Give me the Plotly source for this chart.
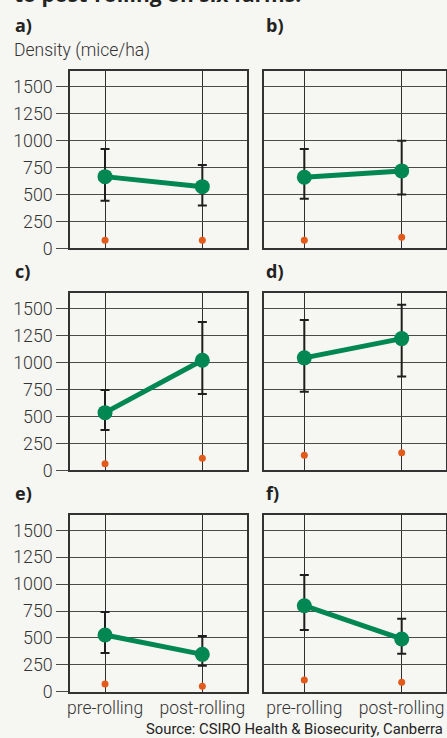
import plotly.graph_objects as go
from plotly.subplots import make_subplots

# ---- data ----
panel_labels = ["a)", "b)", "c)", "d)", "e)", "f)"]
categories = ["pre-rolling", "post-rolling"]
pre_mean = [665, 659, 536, 1045, 527, 799]
post_mean = [572, 718, 1023, 1224, 347, 490]
pre_upper = [922, 922, 747, 1398, 741, 1085]
pre_lower = [442, 460, 375, 731, 360, 573]
post_upper = [773, 999, 1379, 1538, 518, 678]
post_lower = [396, 498, 710, 871, 242, 353]
pre_other = [74, 74, 61, 140, 72, 109]
post_other = [74, 102, 112, 164, 50, 87]
y_ticks = [0, 250, 500, 750, 1000, 1250, 1500]

W, H = 447, 738
BG = "#f6f6f2"
GREEN = "#008752"
ORANGE = "#e25b1b"
GRID = "#4a4a4a"
TXT = "#333333"
FONT = "Roboto, Liberation Sans, sans-serif"
BOLD = "Open Sans, Liberation Sans, sans-serif"


def px(x):
    return x / W


def py(y):
    return 1 - y / H


col_dom = [[px(70), px(246.7)], [px(264), px(445.7)]]
row_dom = [[py(248.3), py(71)], [py(470.3), py(293.3)], [py(691.7), py(514.7)]]
col_range = [[-0.36, 1.456], [-0.414, 1.452]]

fig = make_subplots(rows=3, cols=2)

for i in range(6):
    r, c = i // 2, i % 2
    means = [pre_mean[i], post_mean[i]]
    up = [pre_upper[i] - pre_mean[i], post_upper[i] - post_mean[i]]
    dn = [pre_mean[i] - pre_lower[i], post_mean[i] - post_lower[i]]
    fig.add_trace(go.Scatter(
        x=categories, y=means, mode="markers",
        marker=dict(size=1, opacity=0),
        error_y=dict(type="data", array=up, arrayminus=dn, color="#1e1e1e",
                     thickness=2, width=4.5),
        showlegend=False, hoverinfo="skip"), row=r + 1, col=c + 1)
    fig.add_trace(go.Scatter(
        x=categories, y=means, mode="lines+markers",
        line=dict(color=GREEN, width=5),
        marker=dict(color=GREEN, size=15),
        showlegend=False), row=r + 1, col=c + 1)
    fig.add_trace(go.Scatter(
        x=categories, y=[pre_other[i], post_other[i]], mode="markers",
        marker=dict(color=ORANGE, size=7),
        showlegend=False), row=r + 1, col=c + 1)

    fig.update_xaxes(
        domain=col_dom[c], range=col_range[c], type="category", automargin=False,
        showgrid=True, gridcolor="#2e2e2e", gridwidth=1.3,
        showline=True, mirror=True, linecolor="#333333", linewidth=1.5,
        ticks="", showticklabels=(r == 2), tickangle=0,
        tickfont=dict(family=FONT, size=17.5, color=TXT, weight=300),
        row=r + 1, col=c + 1)
    fig.update_yaxes(
        domain=row_dom[r], range=[0, 1645], automargin=False,
        tickvals=y_ticks, ticktext=[str(v) for v in y_ticks],
        showgrid=True, gridcolor=GRID, gridwidth=1.3, zeroline=False,
        showline=True, mirror=True, linecolor="#333333", linewidth=1.5,
        ticks=("outside" if c == 0 else ""), ticklen=12, tickwidth=1.3,
        tickcolor=GRID, showticklabels=(c == 0),
        tickfont=dict(family=FONT, size=17.8, color=TXT, weight=300),
        row=r + 1, col=c + 1)

annotations = []
label_pos = [(13, 25), (264, 25), (13, 271), (264, 271), (13, 493), (264, 493)]
for lab, (x, y) in zip(panel_labels, label_pos):
    annotations.append(dict(text=lab, x=px(x), y=py(y), xref="paper", yref="paper",
                            xanchor="left", yanchor="middle", showarrow=False,
                            font=dict(family=BOLD, size=18, color="#222222", weight="bold")))
annotations.append(dict(text="Density (mice/ha)", x=px(12), y=py(51), xref="paper", yref="paper",
                        xanchor="left", yanchor="middle", showarrow=False,
                        font=dict(family=FONT, size=17.5, color=TXT, weight=300)))
annotations.append(dict(text="to post-rolling on six farms.", x=px(12), y=py(-6), xref="paper",
                        yref="paper", xanchor="left", yanchor="middle", showarrow=False,
                        font=dict(family=BOLD, size=21, color="#222222", weight="bold")))
annotations.append(dict(text="Source: CSIRO Health & Biosecurity, Canberra", x=px(445), y=py(729),
                        xref="paper", yref="paper", xanchor="right", yanchor="middle",
                        showarrow=False, font=dict(family=FONT, size=14.8, color="#222222")))

fig.update_layout(
    width=W, height=H, margin=dict(l=0, r=0, t=0, b=0, autoexpand=False),
    paper_bgcolor=BG, plot_bgcolor=BG,
    annotations=annotations,
)

fig.write_html("out.html", config={"displayModeBar": False},
               post_script="document.body.style.margin='0';document.body.style.overflow='hidden';")
